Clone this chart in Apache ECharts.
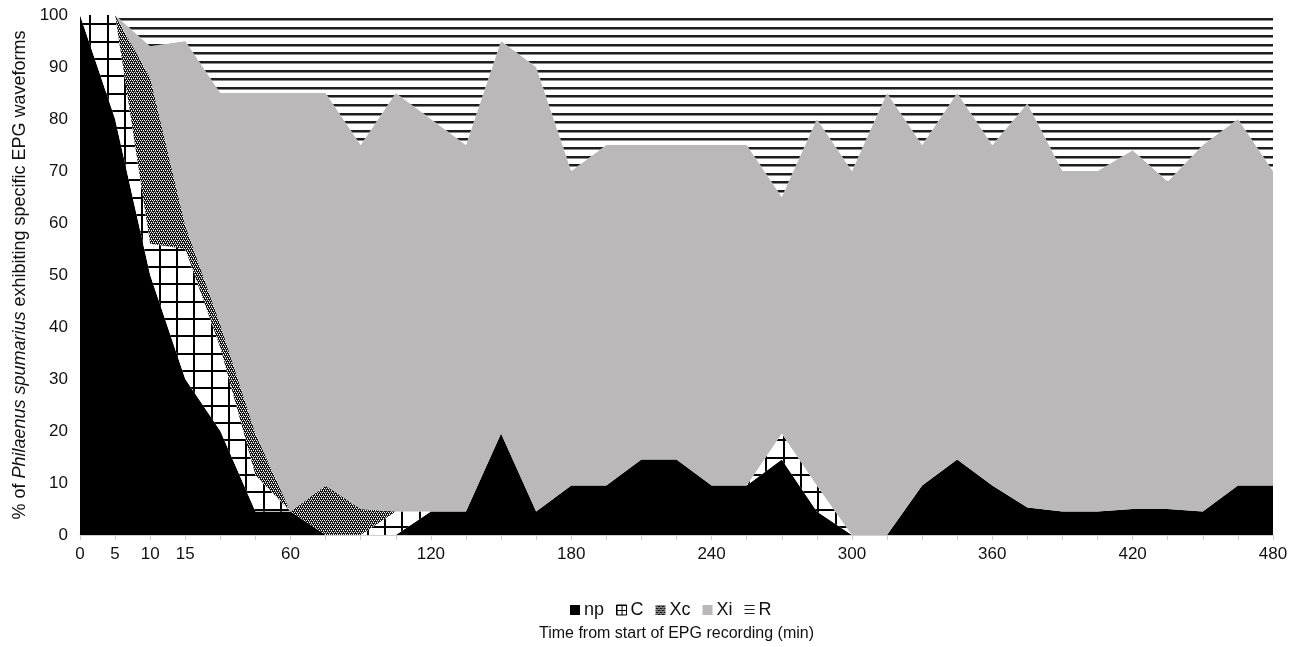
<!DOCTYPE html>
<html>
<head>
<meta charset="utf-8">
<script src="https://cdn.jsdelivr.net/npm/echarts@6/dist/echarts.min.js"></script>
<style>html,body{margin:0;padding:0;background:#fff}#chart{width:1303px;height:647px}</style>
</head>
<body>
<div id="chart"></div>
<script>
// Time categories (min)
var times = [0,5,10,15,30,45,60,75,90,105,120,135,150,165,180,195,210,225,240,255,270,285,300,315,330,345,360,375,390,405,420,435,450,465,480];
var shownLabels = [0,5,10,15,60,120,180,240,300,360,420,480];
// % of insects per waveform (stacked to 100)
var npVals = [100,80,50,30,20,4.5,4.5,0,0,0,4.5,4.5,19.5,4.5,9.5,9.5,14.5,14.5,9.5,9.5,14.5,4.5,0,0,9.5,14.5,9.5,5.3,4.5,4.5,5,5,4.5,9.5,9.5];
var cVals  = [0,20,6,25,16,7,0,0,0,4.5,0,0,0,0,0,0,0,0,0,0,5,5,0,0,0,0,0,0,0,0,0,0,0,0,0];
var xcVals = [0,0,32,4.5,4.5,8,0,9.5,5,0,0,0,0,0,0,0,0,0,0,0,0,0,0,0,0,0,0,0,0,0,0,0,0,0,0];
var xiVals = [0,0,6,35.5,44.5,65.5,80.5,75.5,70,80.5,75.5,70.5,75.5,85.5,60.5,65.5,60.5,60.5,65.5,65.5,45.5,70.5,70,85,65.5,70.5,65.5,77.7,65.5,65.5,69,63,70.5,70.5,60.5];
var rVals  = [0,0,6,5,15,15,15,15,25,15,20,25,5,10,30,25,25,25,25,25,35,20,30,15,25,15,25,17,30,30,26,32,25,20,30];
var seriesNames = ['np','C','Xc','Xi','R'];

function makeCanvas(w, h, draw) {
  var c = document.createElement('canvas');
  c.width = w; c.height = h;
  var ctx = c.getContext('2d');
  draw(ctx, w, h);
  return c;
}
// crosshatch grid (C)
var gridCanvas = makeCanvas(52, 52, function (ctx, w, h) {
  ctx.fillStyle = '#ffffff'; ctx.fillRect(0, 0, w, h);
  ctx.fillStyle = '#000000';
  [0, 17, 35].forEach(function (p) { ctx.fillRect(p, 0, 2, h); ctx.fillRect(0, p, w, 2); });
});
var gridSmall = makeCanvas(5, 5, function (ctx, w, h) {
  ctx.fillStyle = '#ffffff'; ctx.fillRect(0, 0, w, h);
  ctx.fillStyle = '#000000'; ctx.fillRect(0, 0, 1, h); ctx.fillRect(0, 0, w, 1);
});
// dense dotted pattern (Xc): dark with a lattice of white dots
var dotCanvas = makeCanvas(4, 4, function (ctx) {
  ctx.fillStyle = '#141414'; ctx.fillRect(0, 0, 4, 4);
  ctx.fillStyle = '#ffffff';
  [[0,0],[2,0],[1,2],[3,2]].forEach(function (p) { ctx.fillRect(p[0], p[1], 1, 1); });
  ctx.fillStyle = '#9a9a9a';
  [[1,1],[3,3]].forEach(function (p) { ctx.fillRect(p[0], p[1], 1, 1); });
});
// horizontal stripes (R)
var stripeCanvas = makeCanvas(4, 43, function (ctx, w, h) {
  ctx.fillStyle = '#ffffff'; ctx.fillRect(0, 0, w, h);
  [0, 9, 17, 26, 34].forEach(function (p) {
    ctx.fillStyle = '#1e1e1e'; ctx.fillRect(0, p, w, 2);
    ctx.fillStyle = '#8a8a8a'; ctx.fillRect(0, p + 2, w, 1);
  });
});
var stripeSmall = makeCanvas(4, 4, function (ctx, w, h) {
  ctx.fillStyle = '#ffffff'; ctx.fillRect(0, 0, w, h);
  ctx.fillStyle = '#222222'; ctx.fillRect(0, 0, w, 1);
});

var fills = [
  '#000000',
  { type: 'pattern', image: gridCanvas, repeat: 'repeat', x: 20, y: 6 },
  { type: 'pattern', image: dotCanvas, repeat: 'repeat' },
  '#bab8b9',
  { type: 'pattern', image: stripeCanvas, repeat: 'repeat', x: 0, y: 18 }
];
var legendFills = [
  '#000000',
  { type: 'pattern', image: gridSmall, repeat: 'repeat' },
  { type: 'pattern', image: dotCanvas, repeat: 'repeat' },
  '#bab8b9',
  { type: 'pattern', image: stripeSmall, repeat: 'repeat' }
];
var valueSets = [npVals, cVals, xcVals, xiVals, rVals];

var font = 'Liberation Sans, Arial, sans-serif';
var chart = echarts.init(document.getElementById('chart'), null, { renderer: 'canvas' });

var series = seriesNames.map(function (name, k) {
  return {
    name: name,
    type: 'line',
    stack: 'total',
    data: valueSets[k],
    symbol: 'none',
    smooth: false,
    lineStyle: { width: 0, opacity: 0 },
    itemStyle: { color: fills[k] },
    areaStyle: { color: fills[k], opacity: 1 },
    emphasis: { disabled: true },
    z: 2
  };
});

chart.setOption({
  animation: false,
  backgroundColor: '#ffffff',
  grid: { left: 80, right: 30, top: 15, bottom: 111 },
  legend: {
    data: seriesNames.map(function (n, k) {
      return { name: n, itemStyle: { color: legendFills[k], borderWidth: k === 1 ? 1 : 0, borderColor: '#000' } };
    }),
    left: 565,
    top: 596,
    icon: 'rect',
    itemWidth: 10,
    itemHeight: 10,
    itemGap: 12,
    textStyle: { fontFamily: font, fontSize: 18, color: '#111', padding: [0, 0, 0, -1] },
    selectedMode: false
  },
  xAxis: {
    type: 'category',
    data: times,
    boundaryGap: false,
    name: 'Time from start of EPG recording (min)',
    nameLocation: 'middle',
    nameGap: 91,
    nameTextStyle: { fontFamily: font, fontSize: 16, color: '#111' },
    axisLine: { show: true, lineStyle: { color: '#d0d0d0', width: 1 } },
    axisTick: { show: true, interval: 0, length: 5, lineStyle: { color: '#d0d0d0' } },
    axisLabel: {
      interval: function (idx, val) { return shownLabels.indexOf(Number(val)) >= 0; },
      margin: 11,
      fontFamily: font,
      fontSize: 17,
      color: '#111'
    },
    splitLine: { show: false },
    z: 3
  },
  yAxis: {
    type: 'value',
    min: 0,
    max: 100,
    interval: 10,
    name: '{n|% of }{i|Philaenus spumarius}{n| exhibiting specific EPG waveforms}',
    nameLocation: 'middle',
    nameGap: 50,
    nameTextStyle: {
      fontFamily: font, fontSize: 18, color: '#111',
      rich: {
        n: { fontFamily: font, fontSize: 18, color: '#111' },
        i: { fontFamily: font, fontSize: 18, color: '#111', fontStyle: 'italic' }
      }
    },
    axisLine: { show: false },
    axisTick: { show: false },
    axisLabel: { margin: 12, fontFamily: font, fontSize: 17, color: '#111' },
    splitLine: { show: false }
  },
  series: series
});
</script>
</body>
</html>
